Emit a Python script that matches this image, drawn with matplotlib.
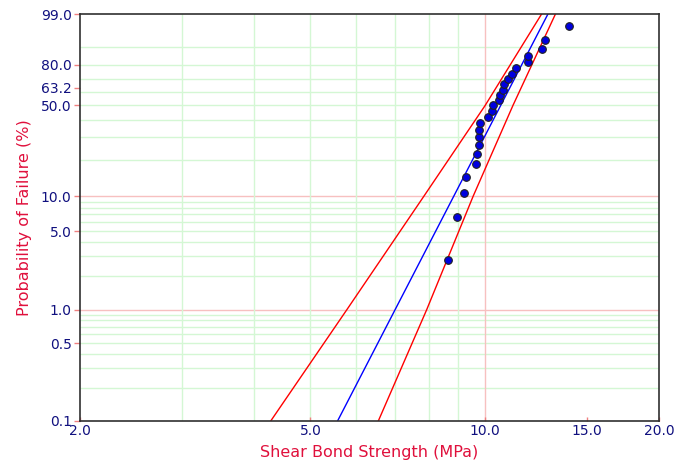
import numpy as np
import matplotlib
matplotlib.use("Agg")
import matplotlib.pyplot as plt

# shear bond strength (MPa), sorted
strength = [8.63, 8.96, 9.22, 9.27, 9.66, 9.71, 9.76, 9.78, 9.79, 9.81,
            10.14, 10.29, 10.35, 10.57, 10.64, 10.74, 10.80, 10.96, 11.13, 11.32,
            11.88, 11.90, 12.58, 12.73, 13.98]

# fitted line and confidence bounds (probability %, strength)
fit_prob = [0.1, 99.0]
fit_x = [5.57, 12.86]
bound_prob = [0.1, 1.0, 10.0, 50.0, 99.0]
upper_x = [4.27, 5.78, 7.85, 10.02, 12.54]
lower_x = [6.55, 7.94, 9.55, 11.19, 13.25]

yticks = [0.1, 0.5, 1.0, 5.0, 10.0, 50.0, 63.2, 80.0, 99.0]
xticks = [2.0, 5.0, 10.0, 15.0, 20.0]
green_y = [0.2, 0.3, 0.4, 0.5, 0.6, 0.7, 0.8, 0.9,
           2, 3, 4, 5, 6, 7, 8, 9,
           20, 30, 40, 50, 60, 70, 80, 90]
pink_y = [1.0, 10.0]
green_x = [3, 4, 5, 6, 7, 8, 9]
pink_x = [10]

# median ranks (Bernard)
n = len(strength)
ranks = [(i - 0.3) / (n + 0.4) * 100 for i in range(1, n + 1)]


def fwd(p):
    p = np.asarray(p, dtype=float)
    with np.errstate(all="ignore"):
        return np.log(-np.log(1 - p / 100.0))


def inv(w):
    w = np.asarray(w, dtype=float)
    return 100.0 * (1 - np.exp(-np.exp(w)))


fig = plt.figure(figsize=(6.92, 4.67), dpi=100)
ax = fig.add_axes([80 / 692, 1 - 421 / 467, 579 / 692, 407 / 467])
ax.set_xscale("log")
ax.set_yscale("function", functions=(fwd, inv))
ax.set_xlim(2.0, 20.0)
ax.set_ylim(0.1, 99.0)

for v in green_y:
    ax.axhline(v, color="#d4f7d4", lw=1, zorder=0)
for v in pink_y:
    ax.axhline(v, color="#f7c0c0", lw=1, zorder=0)
for v in green_x:
    ax.axvline(v, color="#d4f7d4", lw=1, zorder=0)
for v in pink_x:
    ax.axvline(v, color="#f7c0c0", lw=1, zorder=0)

ax.plot(upper_x, bound_prob, color="red", lw=1, zorder=2)
ax.plot(lower_x, bound_prob, color="red", lw=1, zorder=2)
ax.plot(fit_x, fit_prob, color="blue", lw=1, zorder=2)
ax.plot(strength, ranks, "o", ms=5.5, mfc="#0000e0", mec="#202020", mew=0.8,
        zorder=3, clip_on=False)

ax.set_yticks(yticks)
ax.set_yticklabels(["%.1f" % v for v in yticks])
ax.set_xticks(xticks)
ax.set_xticklabels(["%.1f" % v for v in xticks])
ax.yaxis.set_minor_locator(matplotlib.ticker.NullLocator())
ax.xaxis.set_minor_locator(matplotlib.ticker.NullLocator())
ax.tick_params(axis="y", colors="#f08080", labelcolor="#10107f", length=4,
               width=1, labelsize=10, pad=2)
ax.tick_params(axis="x", colors="#f08080", labelcolor="#10107f", length=3,
               width=1, labelsize=10, pad=2, direction="in")

for s in ax.spines.values():
    s.set_color("#303030")
    s.set_linewidth(1.2)

ax.set_xlabel("Shear Bond Strength (MPa)", color="#e0103c", fontsize=11.5,
              labelpad=5)
ax.set_ylabel("Probability of Failure (%)", color="#e0103c", fontsize=11.5,
              labelpad=6)

fig.savefig("out.png", dpi=100)
